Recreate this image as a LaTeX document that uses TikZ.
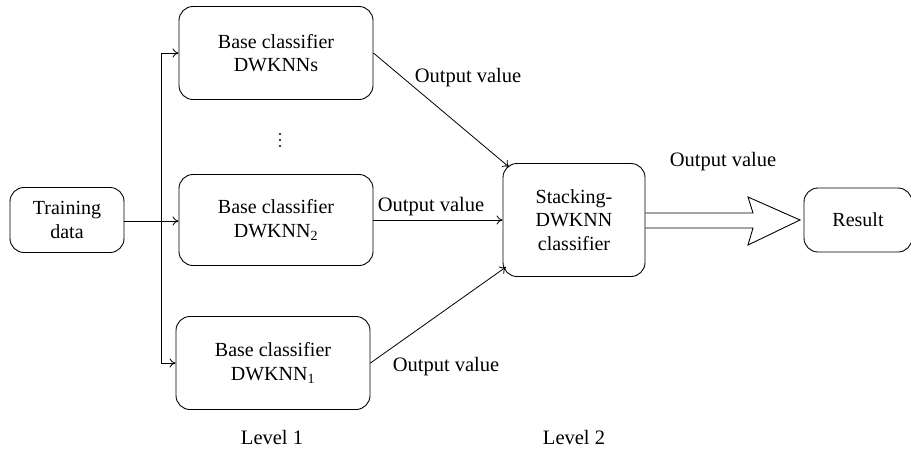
\documentclass[tikz,border=0pt]{standalone}
\usepackage{fontspec}
\setmainfont{Liberation Serif}
\usetikzlibrary{arrows.meta}
\begin{document}
\begin{tikzpicture}[x=1pt,y=-1pt,
  box/.style={draw, line width=0.9pt, rounded corners=14pt, align=center, inner sep=0pt, font=\fontsize{20}{23.5}\selectfont},
  lbl/.style={font=\fontsize{20.5}{24}\selectfont, inner sep=0pt},
  dot/.style={fill, circle, inner sep=0pt, minimum size=2.2pt},
  conn/.style={line width=0.8pt, -{To[length=6pt,width=9pt]}}]
\useasboundingbox (0,0) rectangle (911,451);
\node[box, minimum width=114pt, minimum height=65pt] (train) at (67,220) {Training\\data};
\node[box, minimum width=194pt, minimum height=93pt] (bs) at (276,53) {Base classifier\\DWKNNs};
\node[box, minimum width=194pt, minimum height=91pt] (b2) at (276,220) {Base classifier\\DWKNN\textsubscript{2}};
\node[box, minimum width=194pt, minimum height=93pt] (b1) at (273,363) {Base classifier\\DWKNN\textsubscript{1}};
\node[box, minimum width=142pt, minimum height=113pt] (stk) at (574,220) {Stacking-\\DWKNN\\classifier};
\node[box, minimum width=108pt, minimum height=64pt] (res) at (858,220) {Result};
\node[dot] (d1) at (280,134) {};
\node[dot] (d2) at (280,140) {};
\node[dot] (d3) at (280,146) {};
\coordinate (split) at (161,221);
\coordinate (top) at (161,53);
\coordinate (bot) at (161,363);
\draw[conn] (train.east |- split) -- (b2.west |- split);
\draw[line width=0.8pt] (top) -- (bot);
\draw[conn] (top) -- (bs.west |- top);
\draw[conn] (bot) -- (b1.west |- bot);
\coordinate (sa) at (509,167);
\coordinate (sb) at (506,267);
\draw[conn] (bs.east) -- (sa);
\draw[conn] (b2.east) -- (stk.west);
\draw[conn] (b1.east) -- (sb);
\node[lbl] (o1) at (468,78) {Output value};
\node[lbl] (o2) at (431,207) {Output value};
\node[lbl] (o3) at (446,367) {Output value};
\node[lbl] (o4) at (723,162) {Output value};
\node[lbl] (l1) at (272,437) {Level 1};
\node[lbl] (l2) at (574,437) {Level 2};
\draw[line width=0.9pt, line join=miter] (stk.east |- 0,213) -- (753,213) -- (748,197) -- (800,220) -- (748,245) -- (753,228) -- (stk.east |- 0,228);
\end{tikzpicture}
\end{document}
